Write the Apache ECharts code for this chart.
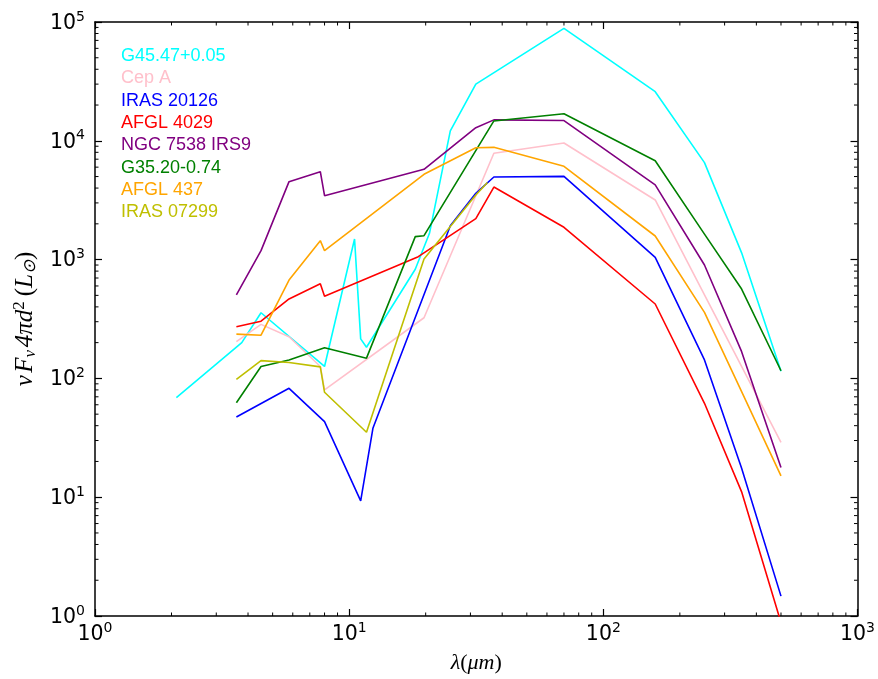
<!DOCTYPE html>
<html><head><meta charset="utf-8">
<script src="https://cdn.jsdelivr.net/npm/echarts@6/dist/echarts.min.js"></script>
<style>html,body{margin:0;padding:0;background:#fff}#c{width:878px;height:679px}</style>
</head><body><div id="c"></div>
<script>
// ---- data ----
const sourceNames = ['G45.47+0.05', 'Cep A', 'IRAS 20126', 'AFGL 4029', 'NGC 7538 IRS9', 'G35.20-0.74', 'AFGL 437', 'IRAS 07299'];
const sourceColors = ['#00ffff', '#ffc0cb', '#0000ff', '#ff0000', '#800080', '#008000', '#ffa500', '#bfbf00'];

const g45Wave = [2.09, 3.78, 4.5, 8.0, 10.5, 11.1, 11.7, 18.2, 20.7, 25, 31.5, 70, 160, 250, 350, 500];
const g45Flux = [68.8, 200, 357, 126, 1490, 215, 183, 829, 1665, 12100, 30000, 88500, 25900, 6550, 1140, 115];

const cepAWave = [3.6, 4.5, 5.8, 7.7, 8.0, 19.7, 37.1, 70, 160, 500];
const cepAFlux = [204, 285, 224, 126, 80, 324, 7850, 9590, 3175, 29];

const iras20126Wave = [3.6, 5.8, 8.0, 11.1, 12.4, 25, 31.5, 37.1, 70, 160, 250, 350, 500];
const iras20126Flux = [47.3, 82.5, 43.2, 9.3, 38, 1930, 3610, 4960, 5020, 1046, 143, 17.5, 1.47];

const afgl4029Wave = [3.6, 4.5, 5.8, 7.7, 8.0, 18.7, 31.5, 37.1, 70, 160, 250, 350, 500];
const afgl4029Flux = [272, 303, 466, 627, 491, 1058, 2210, 4080, 1870, 423, 61.7, 11.1, 0.88];

const ngc7538Wave = [3.6, 4.5, 5.8, 7.7, 8.0, 19.7, 31.5, 37.1, 70, 160, 250, 350, 500];
const ngc7538Flux = [504, 1190, 4530, 5500, 3450, 5760, 12900, 15000, 14800, 4250, 900, 168, 17.8];

const g35Wave = [3.6, 4.5, 5.8, 8.0, 11.7, 18.2, 19.7, 37.1, 70, 160, 250, 350, 500];
const g35Flux = [62.4, 126, 143, 181, 148, 1560, 1590, 14700, 16900, 6800, 1640, 565, 116];

const afgl437Wave = [3.6, 4.5, 5.8, 7.7, 8.0, 19.7, 31.5, 37.1, 70, 160, 250, 350, 500];
const afgl437Flux = [236, 231, 673, 1443, 1188, 5225, 8750, 8810, 6100, 1580, 360, 77.3, 15.1];

const iras07299Wave = [3.6, 4.5, 5.8, 7.7, 8.0, 11.7, 19.7, 31.5, 35];
const iras07299Flux = [98.3, 141, 136, 125, 76.4, 35.2, 1012, 3500, 4450];

// axis ranges and tick labels (decades)
const xMin = 1, xMax = 1000;
const yMin = 1, yMax = 100000;
const xTickExponents = [0, 1, 2, 3];
const yTickExponents = [0, 1, 2, 3, 4, 5];

// ---- build ----
const waves = [g45Wave, cepAWave, iras20126Wave, afgl4029Wave, ngc7538Wave, g35Wave, afgl437Wave, iras07299Wave];
const fluxes = [g45Flux, cepAFlux, iras20126Flux, afgl4029Flux, ngc7538Flux, g35Flux, afgl437Flux, iras07299Flux];

function minorValues(lo, hi) {
  const out = [];
  for (let p = Math.round(Math.log10(lo)); p < Math.round(Math.log10(hi)); p++) {
    for (let m = 2; m <= 9; m++) out.push(m * Math.pow(10, p));
  }
  return out;
}
const minorData = [];
minorValues(xMin, xMax).forEach(v => minorData.push([v, yMin, 0]));
minorValues(yMin, yMax).forEach(v => minorData.push([xMin, v, 1]));

const AX = '#000';
const labelRich = {
  b: { fontFamily: 'DejaVu Sans', fontSize: 20.5, color: '#000', lineHeight: 24, verticalAlign: 'bottom' },
  s: { fontFamily: 'DejaVu Sans', fontSize: 14, color: '#000', lineHeight: 13, verticalAlign: 'top' }
};
function decadeLabel(v) {
  const e = Math.round(Math.log10(v));
  return '{b|10}{s|' + e + '}';
}
function baseAxis(extra) {
  return Object.assign({
    type: 'log', logBase: 10,
    axisLine: { show: true, onZero: false, lineStyle: { color: AX, width: 1.5 } },
    axisTick: { show: true, inside: true, length: 7, lineStyle: { color: AX, width: 1.2 } },
    splitLine: { show: false },
    minorTick: { show: false },
    minorSplitLine: { show: false }
  }, extra);
}

const series = sourceNames.map((n, i) => ({
  name: n, type: 'line',
  xAxisIndex: 0, yAxisIndex: 0,
  data: waves[i].map((w, k) => [w, fluxes[i][k]]),
  showSymbol: false, symbol: 'none',
  lineStyle: { color: sourceColors[i], width: 1.6 },
  itemStyle: { color: sourceColors[i] },
  clip: true, z: 3 + i,
  animation: false
}));

series.push({
  type: 'custom', name: 'minorTicks', silent: true, clip: false, z: 20,
  xAxisIndex: 0, yAxisIndex: 0,
  data: minorData,
  renderItem: function (params, api) {
    const kind = api.value(2);
    const L = 3.5;
    const st = { stroke: AX, lineWidth: 1 };
    if (kind === 0) {
      const v = api.value(0);
      const pb = api.coord([v, yMin]);
      const pt = api.coord([v, yMax]);
      return { type: 'group', children: [
        { type: 'line', shape: { x1: pb[0], y1: pb[1], x2: pb[0], y2: pb[1] - L }, style: st },
        { type: 'line', shape: { x1: pt[0], y1: pt[1], x2: pt[0], y2: pt[1] + L }, style: st }
      ]};
    } else {
      const v = api.value(1);
      const pl = api.coord([xMin, v]);
      const pr = api.coord([xMax, v]);
      return { type: 'group', children: [
        { type: 'line', shape: { x1: pl[0], y1: pl[1], x2: pl[0] + L, y2: pl[1] }, style: st },
        { type: 'line', shape: { x1: pr[0], y1: pr[1], x2: pr[0] - L, y2: pr[1] }, style: st }
      ]};
    }
  },
  animation: false
});

const option = {
  backgroundColor: '#fff',
  animation: false,
  grid: { left: 95, top: 22, width: 767, height: 594, containLabel: false },
  legend: {
    orient: 'vertical', left: 111, top: 40,
    itemWidth: 0, itemHeight: 22.3, itemGap: 0,
    selectedMode: false,
    data: sourceNames.map((n, i) => ({ name: n, icon: 'rect', itemStyle: { opacity: 0 }, lineStyle: { opacity: 0 },
      textStyle: { color: sourceColors[i], fontFamily: 'Liberation Sans', fontSize: 18 } })),
    textStyle: { fontFamily: 'Liberation Sans', fontSize: 18 }
  },
  xAxis: [
    baseAxis({ position: 'bottom', min: xMin, max: xMax, splitNumber: xTickExponents.length - 1,
      axisLabel: { show: true, margin: 5, formatter: decadeLabel, rich: labelRich },
      name: '{i|λ}{r|(}{i|μm}{r|)}', nameLocation: 'middle', nameGap: 36,
      nameTextStyle: { rich: {
        i: { fontFamily: 'Liberation Serif', fontStyle: 'italic', fontSize: 22, color: '#000' },
        r: { fontFamily: 'Liberation Serif', fontSize: 22, color: '#000' } } } }),
    baseAxis({ position: 'top', min: xMin, max: xMax, splitNumber: xTickExponents.length - 1,
      axisLabel: { show: false } })
  ],
  yAxis: [
    baseAxis({ position: 'left', min: yMin, max: yMax, splitNumber: yTickExponents.length - 1,
      axisLabel: { show: true, margin: 10, formatter: decadeLabel, rich: labelRich },
      name: '{i|ν}{g| }{i|F}{sb|ν}{g| }{i|4πd}{sp|2}{g|  }{r|(}{i|L}{sb|⊙}{r|)}', nameLocation: 'middle', nameGap: 54, nameRotate: 90,
      nameTextStyle: { rich: {
        i: { fontFamily: 'Liberation Serif', fontStyle: 'italic', fontSize: 25, color: '#000', lineHeight: 28 },
        r: { fontFamily: 'Liberation Serif', fontSize: 25, color: '#000', lineHeight: 28 },
        g: { fontFamily: 'Liberation Serif', fontSize: 10, lineHeight: 28 },
        sb: { fontFamily: 'Liberation Serif', fontStyle: 'italic', fontSize: 17, color: '#000', verticalAlign: 'bottom', lineHeight: 18 },
        sp: { fontFamily: 'Liberation Serif', fontSize: 17, color: '#000', verticalAlign: 'top', lineHeight: 18 } } } }),
    baseAxis({ position: 'right', min: yMin, max: yMax, splitNumber: yTickExponents.length - 1,
      axisLabel: { show: false } })
  ],
  series: series
};

const chart = echarts.init(document.getElementById('c'), null, { renderer: 'canvas' });
chart.setOption(option);
</script>
</body></html>
